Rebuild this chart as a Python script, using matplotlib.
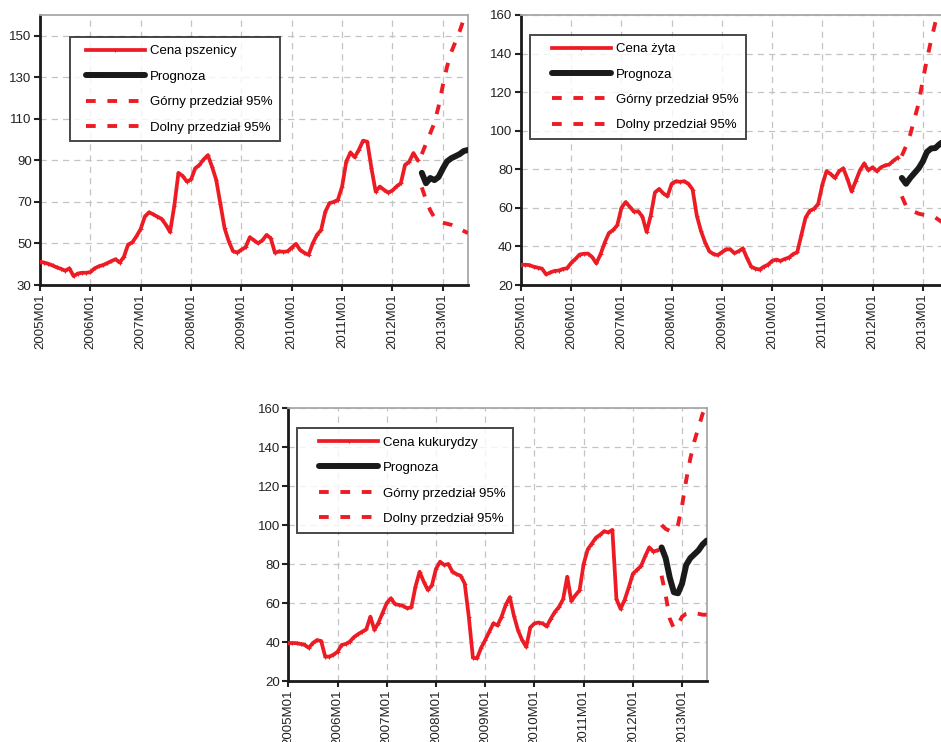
import matplotlib
matplotlib.use("Agg")
import matplotlib.pyplot as plt
from matplotlib.lines import Line2D
from matplotlib.legend_handler import HandlerLine2D
import numpy as np

plt.rcParams['font.family'] = ['Liberation Sans', 'DejaVu Sans']

# months 2005M01 .. 2013M07
years = [2005, 2006, 2007, 2008, 2009, 2010, 2011, 2012, 2013]
months = [f"{y}M{m:02d}" for y in years for m in range(1, 13)][:103]

# actual prices, 2005M01 .. 2012M07
wheat = [41.2, 40.8, 40.2, 39.4, 38.5, 37.8, 36.9, 38.0, 34.3, 35.5, 35.9, 35.9,
         36.2, 38.0, 39.0, 39.6, 40.5, 41.5, 42.4, 40.8, 43.6, 49.5, 50.5, 53.5,
         57.0, 63.0, 65.0, 64.0, 62.9, 61.8, 59.0, 55.5, 68.0, 84.0, 82.5, 79.8,
         80.8, 86.2, 87.8, 90.5, 92.5, 87.0, 80.6, 69.0, 57.3, 51.0, 46.3, 45.6,
         47.0, 48.2, 53.0, 51.5, 50.1, 51.5, 54.1, 52.5, 45.5, 46.2, 46.0, 46.2,
         48.0, 49.8, 46.9, 45.5, 44.5, 50.0, 54.1, 56.5, 65.3, 69.4, 70.0, 71.0,
         77.4, 89.4, 93.8, 91.5, 95.1, 99.5, 99.0, 86.2, 75.0, 77.4, 75.8, 74.5,
         75.5, 77.5, 79.0, 87.8, 89.4, 93.5, 90.2]
rye = [30.5, 30.5, 30.3, 29.5, 29.0, 28.5, 25.5, 26.5, 27.3, 27.5, 28.3, 28.7,
       31.5, 33.5, 35.8, 36.2, 36.3, 34.5, 31.2, 36.0, 42.0, 47.0, 48.5, 51.0,
       60.0, 63.0, 60.5, 58.0, 58.2, 55.5, 47.5, 56.0, 68.0, 69.8, 67.5, 66.0,
       72.5, 73.8, 73.5, 73.8, 72.5, 69.5, 56.0, 48.0, 42.0, 37.5, 36.0, 35.5,
       37.0, 38.5, 38.5, 36.5, 37.5, 39.0, 34.0, 29.5, 28.5, 28.0, 29.5, 30.5,
       32.5, 33.2, 32.5, 33.5, 34.2, 36.0, 37.0, 46.0, 55.0, 58.5, 59.5, 62.0,
       72.0, 79.0, 77.5, 75.5, 79.0, 80.5, 75.0, 68.5, 74.0, 79.5, 83.0, 79.5,
       81.0, 79.0, 81.0, 82.0, 82.5, 84.5, 86.0]
corn = [39.4, 39.5, 39.4, 39.0, 38.5, 37.0, 39.5, 41.0, 40.5, 32.5, 32.5, 33.5,
        35.0, 38.5, 39.0, 40.2, 42.5, 44.0, 45.3, 46.5, 53.0, 46.2, 50.0, 55.0,
        60.0, 62.4, 59.5, 59.0, 58.5, 57.3, 57.8, 68.4, 76.0, 71.0, 66.7, 69.0,
        77.5, 81.2, 79.5, 80.0, 76.1, 74.8, 74.0, 70.0, 53.0, 32.0, 31.6, 37.0,
        41.0, 45.3, 49.6, 48.5, 53.0, 59.0, 63.0, 53.5, 46.0, 41.0, 37.5, 47.5,
        49.5, 50.0, 49.5, 48.0, 52.0, 55.5, 58.0, 62.0, 73.5, 61.0, 64.0, 66.5,
        80.0, 87.5, 90.5, 93.5, 95.0, 96.8, 96.2, 97.5, 62.0, 57.0, 61.6, 68.0,
        75.0, 77.0, 79.0, 84.0, 88.5, 86.4, 87.0]

# forecasts and 95% bounds, 2012M08 .. 2013M07
wheat_fc = [84.0, 79.0, 81.5, 80.5, 82.0, 86.0, 89.5, 91.0, 92.0, 93.0, 94.5, 95.0]
wheat_up = [93.0, 98.0, 103.0, 108.0, 116.0, 126.0, 135.0, 142.0, 147.0, 152.0, 158.0, 164.0]
wheat_lo = [77.0, 71.0, 66.0, 62.5, 61.0, 60.0, 59.5, 59.0, 58.0, 57.0, 56.0, 55.0]

rye_fc = [75.5, 72.5, 75.5, 78.0, 80.5, 84.0, 89.0, 90.8, 91.0, 93.0, 94.5, 95.0]
rye_up = [87.0, 92.0, 98.0, 106.0, 114.0, 126.0, 137.0, 147.0, 156.0, 163.0, 170.0, 178.0]
rye_lo = [66.0, 61.0, 59.0, 58.0, 57.0, 56.5, 56.0, 55.5, 55.0, 53.5, 52.0, 51.0]

corn_fc = [88.5, 83.0, 73.0, 65.5, 65.0, 70.0, 79.5, 83.0, 85.0, 87.0, 90.0, 92.0]
corn_up = [100.0, 98.0, 97.0, 96.5, 100.0, 110.0, 123.0, 134.0, 143.0, 150.0, 157.0, 162.0]
corn_lo = [74.0, 64.0, 52.0, 47.0, 49.0, 53.0, 54.5, 55.0, 55.0, 54.5, 54.0, 54.0]

labels = ["Prognoza", "Górny przedział 95%", "Dolny przedział 95%"]
RED = "#ed1c24"
BLACK = "#1a1a1a"

fig = plt.figure(figsize=(9.41, 7.42), dpi=100)


def panel(rect, actual, fc, up, lo, name, ylim, yticks, leg_xy, xpad):
    ax = fig.add_axes(rect)
    x_act = np.arange(len(actual))
    x_fc = np.arange(len(actual), len(actual) + len(fc))
    ax.plot(x_act, actual, color=RED, lw=2.7, marker="+", ms=3.5, mew=0.8,
            label=name, zorder=3)
    ax.plot(x_fc, fc, color=BLACK, lw=4.3, solid_capstyle="round",
            label=labels[0], zorder=4)
    ax.plot(x_fc, up, color=RED, lw=2.8, ls=(0, (2.5, 3)), label=labels[1], zorder=3)
    ax.plot(x_fc, lo, color=RED, lw=2.8, ls=(0, (2.5, 3)), label=labels[2], zorder=3)

    ax.set_xlim(0, len(months) - 1)
    ax.set_ylim(*ylim)
    ax.set_yticks(yticks)
    ticks = [i for i, m in enumerate(months) if m.endswith("M01")]
    ax.set_xticks(ticks)
    ax.set_xticklabels([months[i] for i in ticks], rotation=90)
    ax.grid(True, color="#c4c4c4", ls=(0, (5, 4)), lw=0.9)
    ax.set_axisbelow(True)
    for s in ("top", "right"):
        ax.spines[s].set_color("#a8a8a8")
        ax.spines[s].set_linewidth(1.3)
    for s in ("left", "bottom"):
        ax.spines[s].set_color("#1a1a1a")
        ax.spines[s].set_linewidth(2.0)
    ax.tick_params(labelsize=9.5, colors="#222222", length=4, width=1.5, pad=2)

    leg = ax.legend(loc="upper left", bbox_to_anchor=leg_xy, borderaxespad=0,
                    fontsize=9.5, frameon=True, fancybox=False, numpoints=1,
                    handlelength=4.5 + xpad, handletextpad=0.35, labelspacing=1.0,
                    borderpad=0.6,
                    handler_map={Line2D: HandlerLine2D(xpad=xpad)})
    leg.get_frame().set_edgecolor("#1a1a1a")
    leg.get_frame().set_linewidth(1.4)
    return ax


panel([0.0425, 0.6159, 0.4548, 0.3639], wheat, wheat_fc, wheat_up, wheat_lo,
      "Cena pszenicy", (30, 160), range(30, 151, 20), (0.07, 0.918), 0.6)
panel([0.5537, 0.6159, 0.4536, 0.3639], rye, rye_fc, rye_up, rye_lo,
      "Cena żyta", (20, 160), range(20, 161, 20), (0.021, 0.926), 1.05)
panel([0.3064, 0.0822, 0.4446, 0.3679], corn, corn_fc, corn_up, corn_lo,
      "Cena kukurydzy", (20, 160), range(20, 161, 20), (0.021, 0.925), 1.05)

fig.savefig("out.png", dpi=100)
